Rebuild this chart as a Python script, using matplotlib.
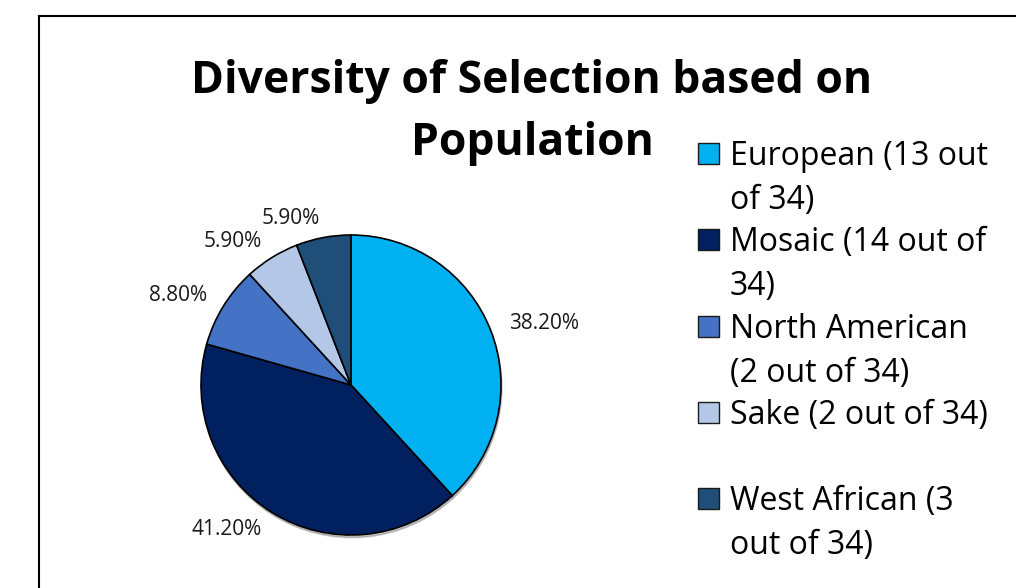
import matplotlib.pyplot as plt
from matplotlib.lines import Line2D
from matplotlib.patches import Rectangle

# data
groups = ['European', 'Mosaic', 'North American', 'Sake', 'West African']
legend_labels = ['European (13 out\nof 34)', 'Mosaic (14 out of\n34)',
                 'North American\n(2 out of 34)', 'Sake (2 out of 34)',
                 'West African (3\nout of 34)']
percents = [38.2, 41.2, 8.8, 5.9, 5.9]
colors = ['#00B0F0', '#002060', '#4472C4', '#B4C7E7', '#1F4E79']

W, H = 1016, 588
fig = plt.figure(figsize=(W / 100, H / 100), dpi=100)
fig.patch.set_facecolor('white')

# chart border (only left and top edges visible in the crop)
fig.add_artist(Line2D([39 / W, 39 / W], [1 - 16 / H, 0], color='black', lw=1.5))
fig.add_artist(Line2D([39 / W, 1], [1 - 16 / H, 1 - 16 / H], color='black', lw=1.5))

# title
fig.text(532 / W, 1 - 93 / H, 'Diversity of Selection based on', ha='center',
         va='baseline', fontsize=32, fontweight='bold', family='Open Sans')
fig.text(532 / W, 1 - 155 / H, 'Population', ha='center',
         va='baseline', fontsize=32, fontweight='bold', family='Open Sans')

# pie: center (351,385) px, radius 150 px -> axes 375 px square
cx, cy, r = 351, 385, 150
S = 2.5 * r
ax = fig.add_axes([(cx - S / 2) / W, (H - cy - S / 2) / H, S / W, S / H])
wedges, texts = ax.pie(percents, colors=colors, startangle=90, counterclock=False,
                       labels=['%.2f%%' % p for p in percents], labeldistance=1.13,
                       wedgeprops=dict(edgecolor='black', linewidth=1.2),
                       shadow=dict(ox=0.004, oy=-0.012, facecolor='#7f7f7f',
                                   edgecolor='#7f7f7f', alpha=0.45),
                       textprops=dict(fontsize=15, family='Open Sans', color='#1a1a1a'))
ax.set_aspect('equal')

# legend drawn by hand to match the wrapped, top-aligned entries
x_box, x_txt = 698, 730
base0, step, line_h = 165, 86.3, 44
for i, (lab, col) in enumerate(zip(legend_labels, colors)):
    b = base0 + i * step
    fig.add_artist(Rectangle((x_box / W, 1 - (b - 1) / H), 21 / W, 21 / H,
                             facecolor=col, edgecolor='#1a1a1a', lw=1.0,
                             transform=fig.transFigure))
    for j, line in enumerate(lab.split('\n')):
        fig.text(x_txt / W, 1 - (b + j * line_h) / H, line, ha='left', va='baseline',
                 fontsize=23, family='Open Sans', color='black')

fig.savefig('out.png', dpi=100)
